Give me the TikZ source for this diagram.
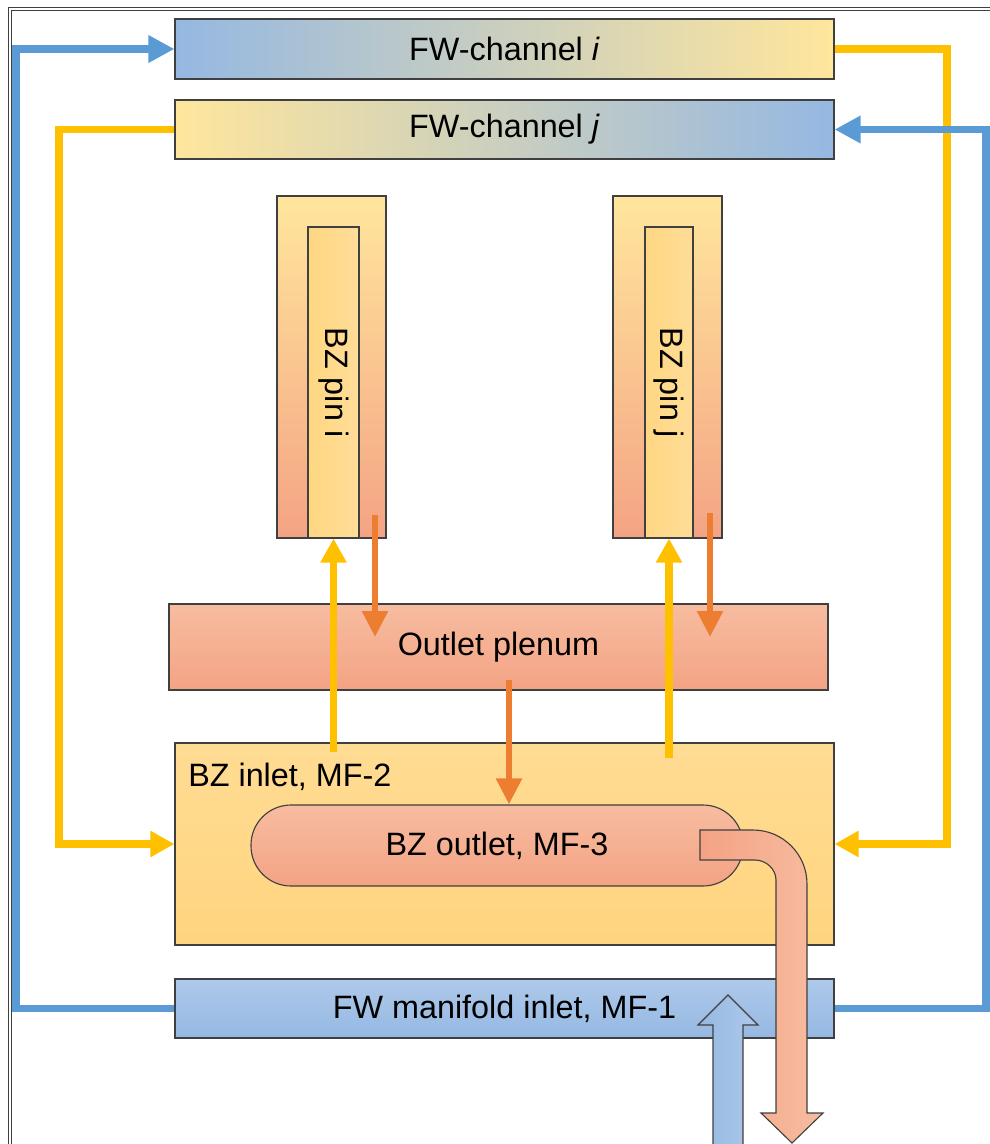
\documentclass[tikz,border=0pt]{standalone}
\usepackage{fontspec}
\setmainfont{Liberation Sans}
\usetikzlibrary{arrows.meta,calc}

\definecolor{pipeblue}{HTML}{5B9BD5}
\definecolor{pipeyellow}{HTML}{FFC000}
\definecolor{pipeorange}{HTML}{ED7D31}
\definecolor{boxblue}{HTML}{95B8E2}
\definecolor{boxbluelight}{HTML}{AEC9EA}
\definecolor{boxyellow}{HTML}{FFE69C}
\definecolor{inletyellow}{HTML}{FFDC94}
\definecolor{inletyellowdark}{HTML}{FFD47E}
\definecolor{coreleft}{HTML}{FFD782}
\definecolor{coreright}{HTML}{FFDD98}
\definecolor{salmonlight}{HTML}{F7BCA0}
\definecolor{salmon}{HTML}{F4A384}
\definecolor{boxline}{HTML}{404040}

\begin{document}
\begin{tikzpicture}[
  x=0.025cm,
  y=-0.025cm,
  line join=miter,
  box/.style={
    draw=boxline,
    line width=0.8pt,
    inner sep=0pt,
    font=\fontsize{23}{27}\selectfont
  },
  pipe/.style={
    line width=0.18cm
  },
  bluearrow/.style={
    pipe,
    draw=pipeblue,
    -{Triangle[length=0.65cm,width=0.65cm]}
  },
  yellowarrow/.style={
    pipe,
    draw=pipeyellow,
    -{Triangle[length=0.6cm,width=0.62cm]}
  },
  orangearrow/.style={
    line width=0.15cm,
    draw=pipeorange,
    -{Triangle[length=0.65cm,width=0.62cm]}
  },
  blocktip/.style={
    draw=boxline,
    line width=0.8pt
  },
  label/.style={
    font=\fontsize{23}{27}\selectfont
  }
]

  \path[use as bounding box]
    (0,0) rectangle (990,1144);

  % sizes
  \def\u{0.025cm}

  % frame
  \draw[boxline, line width=0.7pt]
    (8,1200) -- (8,7) -- (1100,7);
  \draw[boxline, line width=0.7pt]
    (11,1200) -- (11,10) -- (1100,10);

  % FW channels
  \node[box, left color=boxblue, right color=boxyellow,
        minimum width={659*\u}, minimum height={60*\u}]
    (fwi) at (504.5,49) {FW-channel \textit{i}};

  \node[box, left color=boxyellow, right color=boxblue,
        minimum width={659*\u}, minimum height={59*\u}]
    (fwj) at (504.5,129.5) {FW-channel \textit{j}};

  % BZ pins
  \node[box, top color=boxyellow, bottom color=salmon,
        minimum width={109*\u}, minimum height={342*\u}]
    (pini) at (331.5,367) {};
  \node[box, left color=coreleft, right color=coreright,
        minimum width={51*\u}, minimum height={311*\u}]
    (pinicore) at (333.5,382.5) {};
  \node[label, rotate=-90] (pinilabel) at (pinicore) {BZ pin i};

  \node[box, top color=boxyellow, bottom color=salmon,
        minimum width={109*\u}, minimum height={342*\u}]
    (pinj) at (667.5,367) {};
  \node[box, left color=coreleft, right color=coreright,
        minimum width={48*\u}, minimum height={311*\u}]
    (pinjcore) at (669,382.5) {};
  \node[label, rotate=-90] (pinjlabel) at (pinjcore) {BZ pin j};

  % outlet plenum
  \node[box, top color=salmonlight, bottom color=salmon,
        minimum width={659*\u}, minimum height={86*\u}]
    (plenum) at (498.5,647) {Outlet plenum};

  % BZ inlet
  \node[box, top color=inletyellow, bottom color=inletyellowdark,
        minimum width={659*\u}, minimum height={202*\u}]
    (mftwo) at (504.5,844) {};
  \node[label, anchor=base west, inner sep=0pt]
    (mftwolabel) at (188,786) {BZ inlet, MF-2};

  % BZ outlet
  \node[box, top color=salmonlight, bottom color=salmon,
        rounded corners=1cm,
        minimum width={492*\u}, minimum height={81*\u}]
    (mfthree) at (497,845.5) {BZ outlet, MF-3};

  % FW manifold inlet
  \node[box, top color=boxbluelight, bottom color=boxblue,
        minimum width={659*\u}, minimum height={59*\u}]
    (mfone) at (504.5,1008.5) {FW manifold inlet, MF-1};

  % route lines
  \coordinate (leftb) at (16,0);
  \coordinate (lefty) at (59,0);
  \coordinate (righty) at (947,0);
  \coordinate (rightb) at (986,0);

  % yellow loops
  \draw[yellowarrow]
    (fwi.east) -- (fwi.east -| righty)
    -- (mftwo.east -| righty) -- (mftwo.east);

  \draw[yellowarrow]
    (fwj.west) -- (fwj.west -| lefty)
    -- (mftwo.west -| lefty) -- (mftwo.west);

  % blue loops
  \draw[bluearrow]
    (mfone.west) -- (mfone.west -| leftb)
    -- (fwi.west -| leftb) -- (fwi.west);

  \draw[bluearrow]
    (mfone.east) -- (mfone.east -| rightb)
    -- (fwj.east -| rightb) -- (fwj.east);

  % pin feed and return
  \coordinate (feedi) at (333.5,752);
  \coordinate (feedj) at (669,758);
  \coordinate (backi) at (375,515);
  \coordinate (backiend) at (375,637);
  \coordinate (backj) at (710,513);
  \coordinate (backjend) at (710,637);
  \coordinate (drain) at (509,680);

  \draw[yellowarrow] (feedi) -- (pinicore.south);
  \draw[yellowarrow] (feedj) -- (pinjcore.south);

  \draw[orangearrow] (backi) -- (backiend);
  \draw[orangearrow] (backj) -- (backjend);

  \draw[orangearrow] (drain) -- (drain |- mfthree.north);

  % inlet block arrow
  \draw[blocktip, left color=boxblue, right color=boxbluelight]
    (713,1160) -- (713,1025) -- (698,1025)
    -- (728,995) -- (758,1025) -- (743,1025)
    -- (743,1160) -- cycle;

  % outlet pipe
  \draw[blocktip, left color=salmon, right color=salmonlight]
    (700,830) -- (753,830)
    .. controls (782.8,830) and (807,854.2) .. (807,884)
    -- (807,1113) -- (823,1113) -- (792,1143)
    -- (761,1113) -- (776,1113) -- (776,880)
    .. controls (776,869) and (766,860) .. (755,860)
    -- (700,860) -- cycle;

\end{tikzpicture}
\end{document}
